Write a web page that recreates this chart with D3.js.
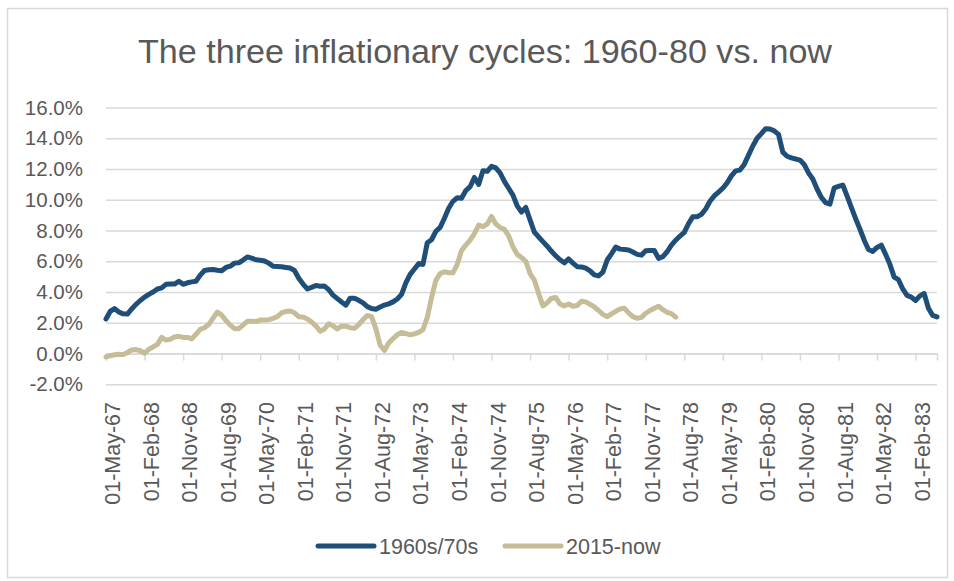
<!DOCTYPE html>
<html>
<head>
<meta charset="utf-8">
<script src="https://cdn.jsdelivr.net/npm/d3@7"></script>
<style>
    body { margin: 0; background: #ffffff; }
    #chart { width: 954px; height: 581px; }
    text { font-family: "Liberation Sans", Arial, sans-serif; fill: #595959; }
</style>
</head>
<body>
<div id="chart"></div>
<script>
// chart title and legend names
const chartTitle = 'The three inflationary cycles: 1960-80 vs. now';
const seriesNames = ['1960s/70s', '2015-now'];
const seriesColors = ['#1F4E79', '#C4BD97'];

// first and last month of the category axis (monthly, May-67 to Jul-83)
const firstMonth = new Date(1967, 4, 1);
const endMonth = new Date(1983, 7, 1);
// a date label every 9 months
const labelStep = 9;
// y axis ticks in percent
const yTicks = [-2, 0, 2, 4, 6, 8, 10, 12, 14, 16];

// 1960s/70s inflation, % y/y, one value per month
const cycle70s = [2.25,2.75,2.92,2.7,2.58,2.57,2.9,3.2,3.45,3.67,
    3.85,4.0,4.2,4.27,4.5,4.52,4.52,4.7,4.5,4.6,
    4.66,4.7,5.1,5.4,5.45,5.47,5.42,5.38,5.6,5.68,
    5.88,5.9,6.08,6.28,6.2,6.1,6.07,6.02,5.88,5.68,
    5.66,5.64,5.6,5.56,5.4,4.9,4.52,4.2,4.3,4.42,
    4.38,4.39,4.15,3.8,3.57,3.35,3.15,3.6,3.6,3.46,
    3.3,3.05,2.93,2.88,3.02,3.15,3.23,3.36,3.55,3.85,
    4.6,5.15,5.5,5.85,5.8,7.2,7.4,7.95,8.2,8.8,
    9.45,9.9,10.13,10.1,10.6,10.85,11.45,11.0,11.88,11.85,
    12.18,12.07,11.75,11.2,10.75,10.3,9.6,9.2,9.5,8.68,
    7.9,7.58,7.28,6.98,6.65,6.35,6.1,5.9,6.15,5.88,
    5.65,5.63,5.55,5.38,5.12,5.05,5.3,6.08,6.48,6.92,
    6.79,6.76,6.73,6.6,6.45,6.4,6.68,6.7,6.7,6.19,
    6.3,6.62,7.05,7.37,7.64,7.88,8.45,8.9,8.9,9.05,
    9.4,9.9,10.25,10.5,10.75,11.1,11.55,11.88,11.93,12.3,
    12.9,13.5,14.0,14.3,14.62,14.6,14.48,14.25,13.1,12.83,
    12.72,12.65,12.58,12.3,11.75,11.35,10.7,10.15,9.82,9.72,
    10.78,10.87,10.96,10.25,9.5,8.78,8.1,7.37,6.77,6.64,
    6.9,7.05,6.45,5.8,4.97,4.8,4.2,3.78,3.67,3.45,
    3.75,3.9,2.95,2.48,2.38];

// 2015-now inflation, aligned on the same months
const cycleNow = [-0.22,-0.14,-0.08,-0.04,-0.07,0.07,0.23,0.26,0.18,0.02,
    0.28,0.43,0.6,1.05,0.88,0.92,1.08,1.12,1.05,1.05,
    0.95,1.25,1.57,1.68,1.9,2.3,2.7,2.5,2.15,1.85,
    1.62,1.62,1.85,2.1,2.1,2.08,2.18,2.18,2.2,2.29,
    2.4,2.65,2.74,2.77,2.65,2.4,2.38,2.25,2.05,1.8,
    1.45,1.6,1.94,1.8,1.6,1.78,1.78,1.68,1.64,1.88,
    2.2,2.48,2.4,1.6,0.55,0.2,0.68,0.97,1.22,1.38,
    1.3,1.22,1.28,1.38,1.55,2.35,3.65,4.75,5.2,5.32,
    5.25,5.25,5.8,6.7,7.05,7.38,7.8,8.35,8.25,8.42,
    8.92,8.43,8.2,8.08,7.65,6.95,6.45,6.25,6.0,5.2,
    4.78,3.9,3.1,3.3,3.6,3.64,3.22,3.1,3.22,3.08,
    3.12,3.4,3.36,3.2,3.03,2.8,2.55,2.4,2.58,2.74,
    2.9,2.95,2.64,2.4,2.29,2.35,2.62,2.8,2.95,3.08,
    2.85,2.68,2.6,2.37];

/**
 * Draws the two inflation cycles as a line chart
 */
function drawCycles() {
    const width = 954;
    const height = 581;
    // plot area bounds
    const plot = {left: 106, right: 937, top: 107.5, bottom: 384.3};

    let months = d3.timeMonth.range(firstMonth, endMonth);
    let fmt = d3.timeFormat('%d-%b-%y');

    let x = d3.scalePoint()
        .domain(months)
        .range([plot.left, plot.right]);

    let y = d3.scaleLinear()
        .domain([d3.min(yTicks), d3.max(yTicks)])
        .range([plot.bottom, plot.top]);

    let svg = d3.select('#chart').append('svg')
        .attr('width', width)
        .attr('height', height);

    // chart border
    svg.append('rect')
        .attr('x', 7.5).attr('y', 8.5)
        .attr('width', 940).attr('height', 569)
        .attr('fill', 'none')
        .attr('stroke', '#D9D9D9')
        .attr('stroke-width', 1.5);

    // title
    svg.append('text')
        .attr('x', 485)
        .attr('y', 63)
        .attr('text-anchor', 'middle')
        .attr('font-size', '33px')
        .attr('textLength', 694)
        .attr('lengthAdjust', 'spacingAndGlyphs')
        .text(chartTitle);

    // horizontal gridlines
    svg.append('g')
        .attr('transform', `translate(${plot.left},0)`)
        .call(d3.axisLeft(y).tickValues(yTicks).tickSize(-(plot.right - plot.left)).tickFormat(''))
        .call(g => g.select('.domain').remove())
        .selectAll('line')
        .attr('stroke', '#D9D9D9')
        .attr('stroke-width', 1.5);

    // y labels
    svg.append('g')
        .attr('transform', `translate(83,0)`)
        .call(d3.axisLeft(y).tickValues(yTicks).tickSize(0).tickPadding(0)
            .tickFormat(d => d.toFixed(1) + '%'))
        .call(g => g.select('.domain').remove())
        .selectAll('text')
        .attr('font-family', null)
        .attr('font-size', '20.5px')
        .attr('fill', '#595959');

    let labelMonths = months.filter((d, i) => i % labelStep === 0);

    // category axis on the zero line, with tick marks
    svg.append('g')
        .attr('transform', `translate(0,${y(0)})`)
        .call(d3.axisBottom(x).tickValues(labelMonths).tickSize(7).tickFormat(''))
        .call(g => g.select('.domain').attr('stroke', '#D9D9D9').attr('stroke-width', 1.5))
        .selectAll('line')
        .attr('stroke', '#D9D9D9')
        .attr('stroke-width', 1.5);

    // date labels below the plot, rotated
    svg.append('g')
        .attr('transform', `translate(0,402)`)
        .call(d3.axisBottom(x).tickValues(labelMonths).tickSize(0).tickFormat(fmt))
        .call(g => g.select('.domain').remove())
        .selectAll('text')
        .attr('font-family', null)
        .attr('font-size', '21.5px')
        .attr('fill', '#595959')
        .attr('text-anchor', 'end')
        .attr('dy', '0.35em')
        .attr('transform', 'translate(3,0) rotate(-90)');

    // the two series
    let series = [cycle70s, cycleNow];
    let line = d3.line()
        .x((d, i) => x(months[i]))
        .y(d => y(d));

    svg.selectAll('.series')
        .data(series)
        .enter().append('path')
        .attr('class', 'series')
        .attr('d', line)
        .attr('fill', 'none')
        .attr('stroke', (d, i) => seriesColors[i])
        .attr('stroke-width', 5)
        .attr('stroke-linejoin', 'round')
        .attr('stroke-linecap', 'round');

    // legend
    let legendX = [318, 505];
    let legend = svg.selectAll('.legend')
        .data(seriesNames)
        .enter().append('g')
        .attr('class', 'legend')
        .attr('transform', (d, i) => `translate(${legendX[i]},546)`);

    legend.append('line')
        .attr('x1', 0).attr('x2', 56)
        .attr('stroke', (d, i) => seriesColors[i])
        .attr('stroke-width', 5)
        .attr('stroke-linecap', 'round');

    legend.append('text')
        .attr('x', 61)
        .attr('dy', '0.35em')
        .attr('font-size', '21.5px')
        .text(d => d);
}

drawCycles();
</script>
</body>
</html>
